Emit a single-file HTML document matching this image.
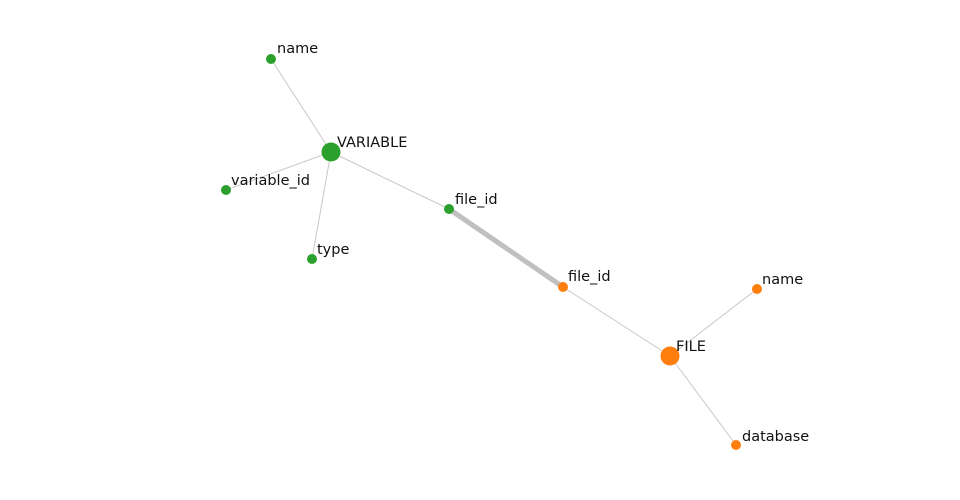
<!DOCTYPE html>
<html><head><style>
html,body{margin:0;padding:0;background:#fff;}
svg{display:block;}
text{font-family:"DejaVu Sans",sans-serif;font-size:14.5px;fill:#111;}
</style></head><body>
<svg width="960" height="500" viewBox="0 0 960 500">
<g stroke="#c8c8c8" stroke-width="1">
<line x1="331" y1="152" x2="271" y2="59"/>
<line x1="331" y1="152" x2="226" y2="190"/>
<line x1="331" y1="152" x2="312" y2="259"/>
<line x1="331" y1="152" x2="449" y2="209"/>
<line x1="563" y1="287" x2="670" y2="356"/>
<line x1="670" y1="356" x2="757" y2="289"/>
<line x1="670" y1="356" x2="736" y2="445"/>
</g>
<line x1="449" y1="209" x2="563" y2="287" stroke="#c0c0c0" stroke-width="5"/>
<g fill="#2ca02c">
<circle cx="331" cy="152" r="9.5"/>
<circle cx="271" cy="59" r="5"/>
<circle cx="226" cy="190" r="5"/>
<circle cx="312" cy="259" r="5"/>
<circle cx="449" cy="209" r="5"/>
</g>
<g fill="#ff7f0e">
<circle cx="670" cy="356" r="9.5"/>
<circle cx="563" cy="287" r="5"/>
<circle cx="757" cy="289" r="5"/>
<circle cx="736" cy="445" r="5"/>
</g>
<text x="277" y="53">name</text>
<text x="337" y="147">VARIABLE</text>
<text x="231" y="185">variable_id</text>
<text x="317" y="254">type</text>
<text x="455" y="204">file_id</text>
<text x="568" y="281">file_id</text>
<text x="762" y="284">name</text>
<text x="676" y="351">FILE</text>
<text x="742" y="441">database</text>
</svg>
</body></html>
